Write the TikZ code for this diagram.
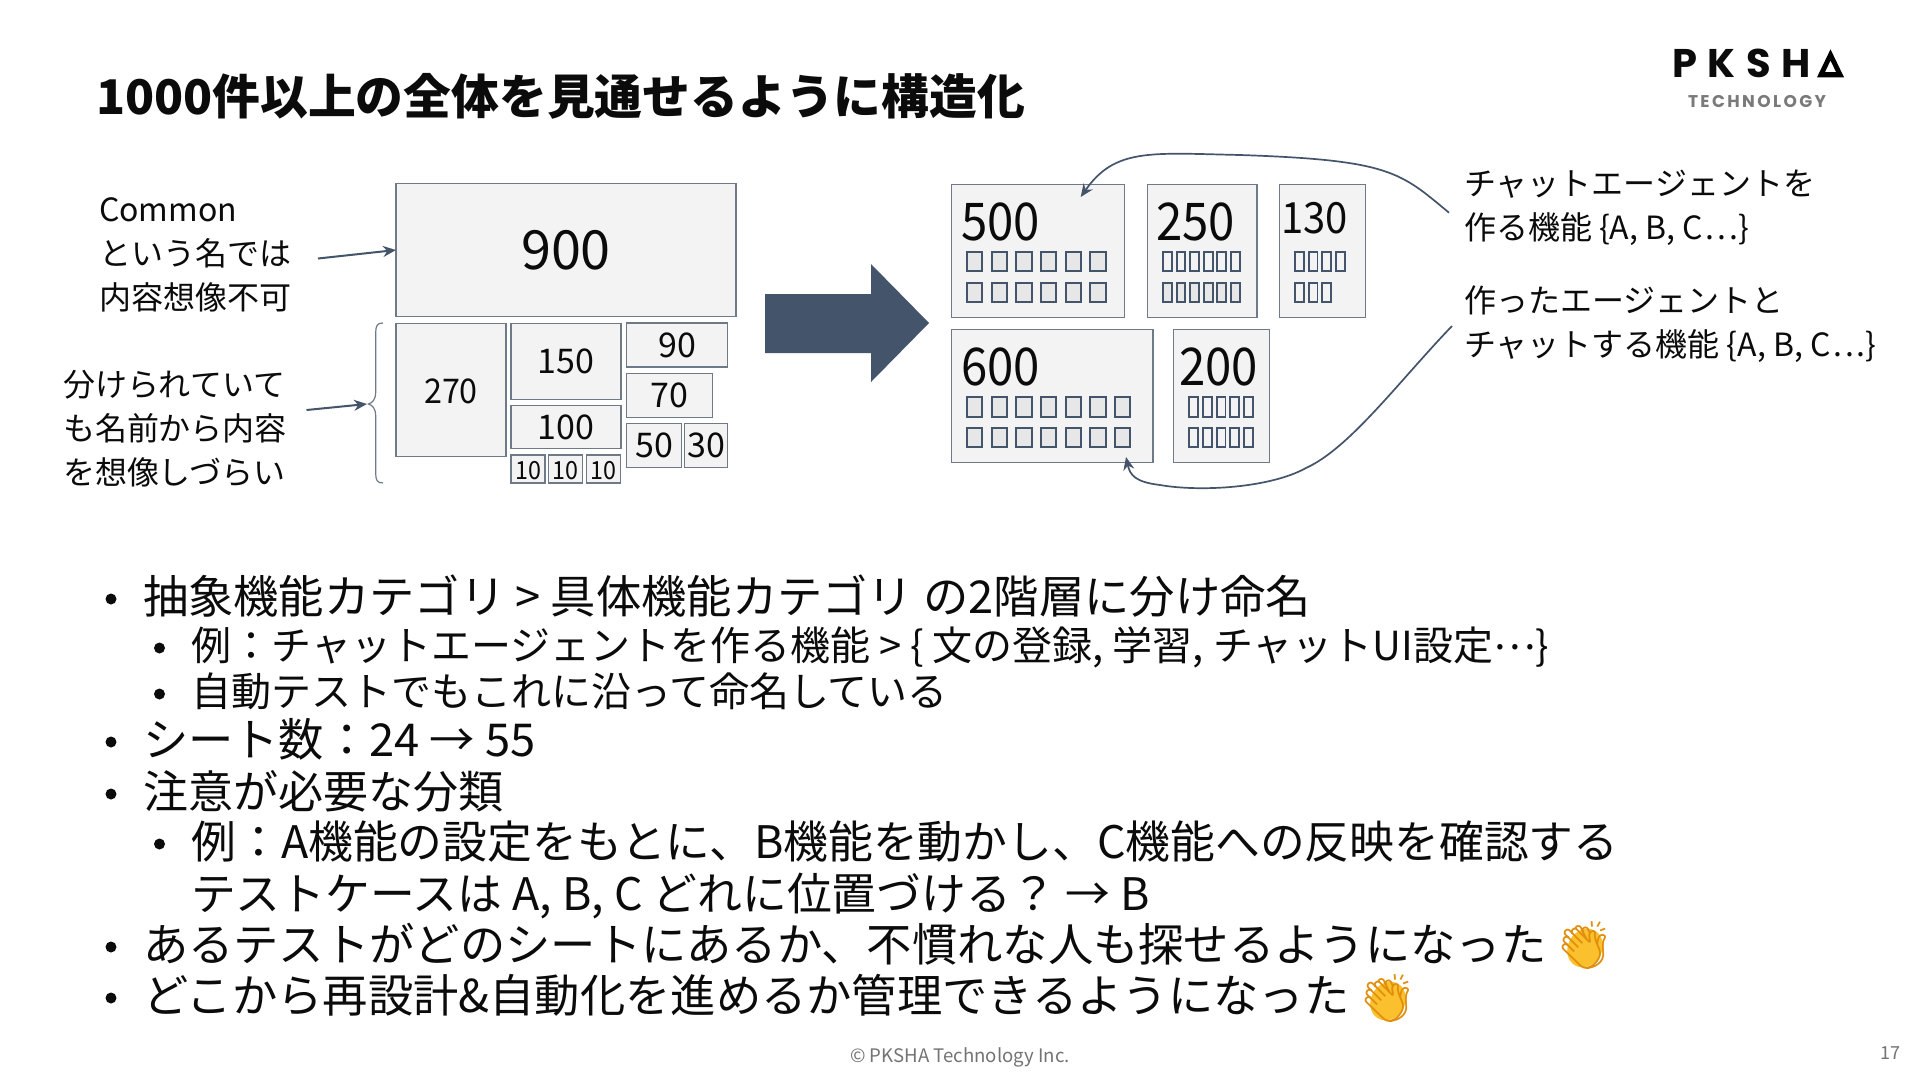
\documentclass[tikz,border=0pt]{standalone}
\usepackage{fontspec}
\usepackage{graphicx}
\usetikzlibrary{arrows.meta}
\setmainfont{Noto Sans CJK JP}
\newfontfamily\emo{Noto Emoji}
\newfontfamily\logofont{Poppins}
\definecolor{ink}{HTML}{0B0B0B}
\definecolor{slate}{HTML}{44546A}
\definecolor{boxline}{HTML}{6E7A88}
\definecolor{boxfill}{HTML}{F3F3F3}
\definecolor{sqfill}{HTML}{E7E7E8}
\definecolor{clapbase}{HTML}{FBC02D}
\definecolor{clapline}{HTML}{E08E0B}
\newcommand{\fsz}[1]{\fontsize{#1}{#1}\selectfont}
\newcommand{\dn}[2]{\raisebox{-#1pt}[\height][\depth]{#2}}
\newcommand{\narrow}[2]{\scalebox{#1}[1]{#2}}
\newcommand{\dts}{\hspace{2.8pt}.\hspace{2.8pt}.\hspace{2.8pt}.}
\tikzset{
  x=1pt,y=-1pt,
  every node/.style={inner sep=0pt,outer sep=0pt,text=ink},
  box/.style={draw=boxline,fill=boxfill,line width=1.3pt,anchor=north west},
  sq/.style={draw=slate,fill=sqfill,line width=1.9pt},
  lead/.style={draw=slate,line width=2pt,-{Stealth[length=13pt,width=11pt]}},
  curve/.style={draw=slate,line width=1.7pt,-{Stealth[length=13pt,width=11pt]}},
  lone/.style={anchor=base west,font=\fsz{45.3}},
  ltwo/.style={anchor=base west,font=\fsz{40}},
  dot/.style={circle,fill=ink,minimum size=#1},
  note/.style={anchor=west,align=left,font=\fontsize{32}{44}\selectfont},
}
\begin{document}
\begin{tikzpicture}
\useasboundingbox (0,0) rectangle (1920,1080);
\fill[white] (0,0) rectangle (1920,1080);
% title
\node[anchor=base west,font=\fsz{47.8}\bfseries] (title) at (96,114) {1000件以上の全体を見通せるように構造化};
% logo
\node[anchor=base west,font=\logofont\fsz{40}\bfseries\addfontfeature{LetterSpace=27}] (logo) at (1672,77.3) {PKSH};
\fill[black,even odd rule] (1817,77.3) -- (1830.5,49.3) -- (1844,77.3) -- cycle (1825,72) -- (1836,72) -- (1830.5,60.5) -- cycle;
\node[anchor=base west,font=\logofont\fsz{17}\bfseries\addfontfeature{LetterSpace=14},text=black!52] (logosub) at (1688,107) {TECHNOLOGY};
% left boxes
\node[box,minimum width=340pt,minimum height=133pt,font=\fsz{54}] (n900) at (396,183.5) {900};
\node[box,minimum width=110pt,minimum height=133pt,font=\fsz{34}] (n270) at (396,323.3) {\dn{1.5}{\narrow{.95}{270}}};
\node[box,minimum width=110pt,minimum height=76pt,font=\fsz{34}] (n150) at (511,323.3) {150};
\node[box,minimum width=110pt,minimum height=43pt,font=\fsz{34}] (n100) at (511,405.5) {100};
\node[box,minimum width=34pt,minimum height=28pt,font=\fsz{25}] (a10) at (511,455) {\dn{1.3}{\narrow{.93}{10}}};
\node[box,minimum width=34pt,minimum height=28pt,font=\fsz{25}] (b10) at (548.5,455) {\dn{1.3}{\narrow{.93}{10}}};
\node[box,minimum width=34pt,minimum height=28pt,font=\fsz{25}] (c10) at (586.5,455) {\dn{1.3}{\narrow{.93}{10}}};
\node[box,minimum width=101pt,minimum height=44pt,font=\fsz{34}] (n90) at (626.8,323) {90};
\node[box,minimum width=86pt,minimum height=44pt,font=\fsz{34}] (n70) at (626.8,373.3) {70};
\node[box,minimum width=55pt,minimum height=44pt,font=\fsz{34}] (n50) at (626.8,423.5) {50};
\node[box,minimum width=43pt,minimum height=44pt,font=\fsz{34}] (n30) at (684.5,423.5) {30};
% brace
\draw[boxline,line width=1.2pt] (383,323) .. controls (377,323) and (375.7,326) .. (375.7,333) -- (375.7,392) .. controls (375.7,400) and (372,403) .. (368.4,404) .. controls (372,405) and (375.7,408) .. (375.7,416) -- (375.7,473) .. controls (375.7,480) and (377,483) .. (383,483);
\coordinate (bracetip) at (367,404);
% left notes
\node[note] (t1) at (99,255) {Common\\という名では\\内容想像不可};
\node[note] (t2) at (63,428.5) {分けられていて\\も名前から内容\\を想像しづらい};
\coordinate (s1) at (318,258.5);
\coordinate (s2) at (306.5,410);
\draw[lead] (s1) -- (n900.west);
\draw[lead] (s2) -- (bracetip);
% big arrow
\fill[slate] (765,294) -- (871,294) -- (871,264) -- (929,323) -- (871,382) -- (871,353) -- (765,353) -- cycle;
% right boxes
\node[box,minimum width=173.4pt,minimum height=133pt] (r500) at (951.3,184.3) {};
\node[box,minimum width=109.7pt,minimum height=133pt] (r250) at (1147.3,184.3) {};
\node[box,minimum width=86.4pt,minimum height=133pt] (r130) at (1279.3,184.3) {};
\node[box,minimum width=201.7pt,minimum height=133pt] (r600) at (951.3,329.7) {};
\node[box,minimum width=96.4pt,minimum height=133pt] (r200) at (1173.3,329.7) {};
\node[anchor=base west,font=\fsz{52}] (l500) at (961,240) {\narrow{.91}{500}};
\node[anchor=base west,font=\fsz{52}] (l250) at (1156,240) {\narrow{.91}{250}};
\node[anchor=base west,font=\fsz{43}] (l130) at (1281,233) {\narrow{.93}{130}};
\node[anchor=base west,font=\fsz{52}] (l600) at (961,385.5) {\narrow{.91}{600}};
\node[anchor=base west,font=\fsz{52}] (l200) at (1179,385.5) {\narrow{.91}{200}};
% small squares
\foreach \i in {0,...,5} {
  \draw[sq] (967+\i*24.67,252) rectangle ++(15.4,19.4);
  \draw[sq] (967+\i*24.67,282.7) rectangle ++(15.4,19.4);
}
\foreach \i in {0,...,6} {
  \draw[sq] (967+\i*24.67,397.3) rectangle ++(15.4,19.4);
  \draw[sq] (967+\i*24.67,427.7) rectangle ++(15.4,19.4);
}
\foreach \i in {0,...,5} {
  \draw[sq,fill=boxfill] (1163+\i*13.6,252) rectangle ++(8.8,19.4);
  \draw[sq] (1163+\i*13.6,282.7) rectangle ++(8.8,19.4);
}
\foreach \i in {0,...,3} \draw[sq,fill=boxfill] (1295+\i*13.7,252) rectangle ++(8.8,19.4);
\foreach \i in {0,...,2} \draw[sq,fill=boxfill] (1295+\i*13.7,282.7) rectangle ++(8.8,19.4);
\foreach \i in {0,...,4} {
  \draw[sq,fill=boxfill] (1189.3+\i*13.7,397.3) rectangle ++(8.8,19.4);
  \draw[sq,fill=boxfill] (1189.3+\i*13.7,427.7) rectangle ++(8.8,19.4);
}
% right notes
\node[note] (t3) at (1464,208) {チャットエージェントを\\作る機能 \{A, B, C\dts\}};
\node[note] (t4) at (1464,324.5) {作ったエージェントと\\チャットする機能 \{A, B, C\dts\}};
% curves
\coordinate (c1s) at (1449,212.7);
\coordinate (c1e) at (1080.7,197);
\coordinate (c2s) at (1452,326);
\coordinate (c2e) at (1126,457);
\draw[curve] (c1s) .. controls (1400,172) and (1390,160) .. (1240,155) .. controls (1150,153) and (1115,148) .. (c1e);
\draw[curve] (c2s) .. controls (1400,380) and (1350,448) .. (1306,468) .. controls (1270,488) and (1200,492) .. (1160,485) .. controls (1135,482) and (1130,475) .. (c2e);
% bullets
\node[dot=11pt] (d1) at (111,599) {};
\node[dot=11pt] (d2) at (159.5,648) {};
\node[dot=11pt] (d3) at (159.5,694) {};
\node[dot=11pt] (d4) at (111,742) {};
\node[dot=11pt] (d5) at (111,794) {};
\node[dot=11pt] (d6) at (159.5,844) {};
\node[dot=11pt] (d7) at (111,947) {};
\node[dot=11pt] (d8) at (111,998) {};
\node[lone] (b1) at (143,613) {抽象機能カテゴリ > 具体機能カテゴリ の2階層に分け命名};
\node[ltwo] (b2) at (191.5,660) {例：チャットエージェントを作る機能 > \{ 文の登録, 学習, チャットUI設定\raisebox{11pt}{…}\}};
\node[ltwo] (b3) at (191,706) {自動テストでもこれに沿って命名している};
\node[lone] (b4) at (143,756) {シート数：24 → 55};
\node[lone,font=\fsz{45}] (b5) at (143,808) {注意が必要な分類};
\node[lone,font=\fsz{44.8}] (b6) at (191.5,858) {例：A機能の設定をもとに、B機能を動かし、C機能への反映を確認する};
\node[lone,font=\fsz{44.8}] (b7) at (191,910) {テストケースは A, B, C どれに位置づける？ → B};
\node[lone] (b8) at (143,961) {あるテストがどのシートにあるか、不慣れな人も探せるようになった};
\node[lone] (b9) at (143,1012) {どこから再設計\&自動化を進めるか管理できるようになった};
% emoji
\fill[clapbase,rotate around={-30:(1585,948)}] (1585,948) ellipse (17pt and 20pt);
\fill[clapbase,rotate around={-30:(1388,1001)}] (1388,1001) ellipse (17pt and 20pt);
\node[font=\emo\fsz{47},text=clapline] (e1) at (1584,945) {👏};
\node[font=\emo\fsz{47},text=clapline] (e2) at (1387,998) {👏};
% footer
\node[font=\fsz{18.6},text=black!55] (foot) at (960,1057) {© PKSHA Technology Inc.};
\node[font=\fsz{18},text=black!55] (page) at (1890,1053) {17};
\end{tikzpicture}
\end{document}
